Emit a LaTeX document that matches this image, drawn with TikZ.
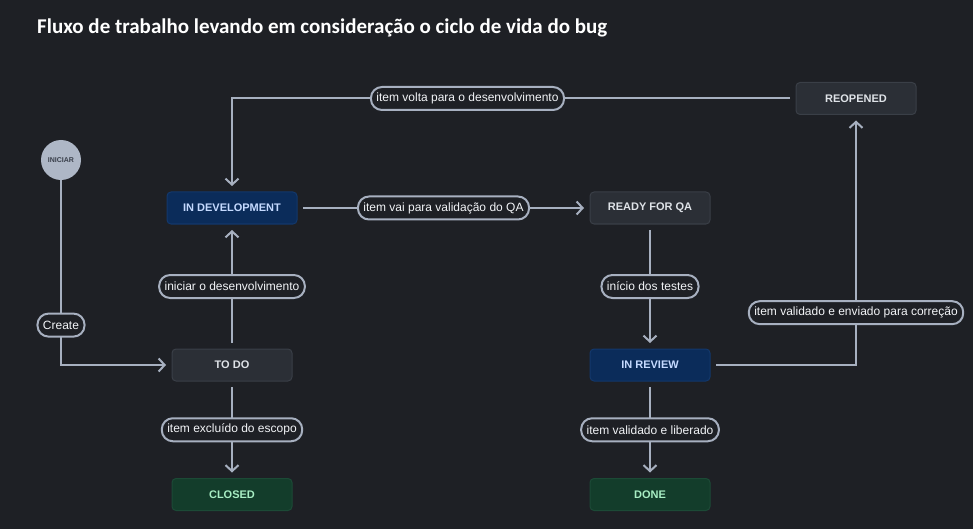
\documentclass[tikz,border=0pt]{standalone}
\usepackage{fontspec}
\setmainfont{Liberation Sans}
\newfontfamily\titlefont{Carlito}
\usetikzlibrary{arrows.meta}
\definecolor{bg}{HTML}{1E2025}
\definecolor{boxgray}{HTML}{2B2F36}
\definecolor{boxgrayb}{HTML}{3A3F47}
\definecolor{navyfill}{HTML}{0B2C5A}
\definecolor{navyb}{HTML}{13386B}
\definecolor{greenfill}{HTML}{133D2B}
\definecolor{greenb}{HTML}{1C4A36}
\definecolor{linec}{HTML}{A7B0C0}
\definecolor{lbltext}{HTML}{F2F4F7}
\definecolor{graytext}{HTML}{DFE3E8}
\definecolor{navytext}{HTML}{C5DAFF}
\definecolor{greentext}{HTML}{A8EEC4}
\definecolor{circfill}{HTML}{AEB7C6}
\definecolor{circtext}{HTML}{3A404B}
\begin{document}
\begin{tikzpicture}[x=1pt,y=-1pt,
  box/.style={draw, line width=1pt, rounded corners=4pt, minimum width=120pt, minimum height=32pt,
    font=\bfseries\fontsize{11}{13}\selectfont, outer sep=6pt},
  graybox/.style={box, fill=boxgray, draw=boxgrayb, text=graytext},
  navybox/.style={box, fill=navyfill, draw=navyb, text=navytext},
  greenbox/.style={box, fill=greenfill, draw=greenb, text=greentext},
  lbl/.style={draw=linec, line width=2pt, fill=bg, text=lbltext, rounded corners=11pt,
    minimum height=23pt, inner xsep=5.5pt, inner ysep=0pt, font=\fontsize{12}{14}\selectfont},
  edge/.style={draw=linec, line width=2pt, -{Straight Barb[length=6pt,width=13pt]}}
]
\fill[bg] (0,0) rectangle (973,529);
\useasboundingbox (0,0) rectangle (973,529);

\node[anchor=base west, inner sep=0pt, text=white, font=\titlefont\bfseries\fontsize{21}{24}\selectfont] (title) at (37,34)
  {Fluxo de trabalho levando em consideração o ciclo de vida do bug};

\node[circle, fill=circfill, minimum size=40pt, inner sep=0pt, text=circtext,
  font=\bfseries\fontsize{7}{8}\selectfont] (ini) at (61,160) {INICIAR};
\node[navybox, minimum width=130pt] (indev) at (232,208) {IN DEVELOPMENT};
\node[graybox] (ready) at (650,208) {READY FOR QA};
\node[graybox] (reop) at (856,98.5) {REOPENED};
\node[graybox] (todo) at (232,365) {TO DO};
\node[navybox] (inrev) at (650,365) {IN REVIEW};
\node[greenbox] (closed) at (232,494.5) {CLOSED};
\node[greenbox] (done) at (650,494.5) {DONE};

\draw[edge] (ini.south) |- node[lbl,pos=0.392]{Create} (todo.west);
\draw[edge] (todo.north) -- node[lbl]{iniciar o desenvolvimento} (indev.south);
\draw[edge] (todo.south) -- node[lbl]{item excluído do escopo} (closed.north);
\draw[edge] (indev.east) -- node[lbl]{item vai para validação do QA} (ready.west);
\draw[edge] (ready.south) -- node[lbl]{início dos testes} (inrev.north);
\draw[edge] (inrev.south) -- node[lbl]{item validado e liberado} (done.north);
\draw[edge] (inrev.east) -| node[lbl,pos=0.607]{item validado e enviado para correção} (reop.south);
\draw[edge] (reop.west) -| node[lbl,pos=0.289]{item volta para o desenvolvimento} (indev.north);
\end{tikzpicture}
\end{document}
